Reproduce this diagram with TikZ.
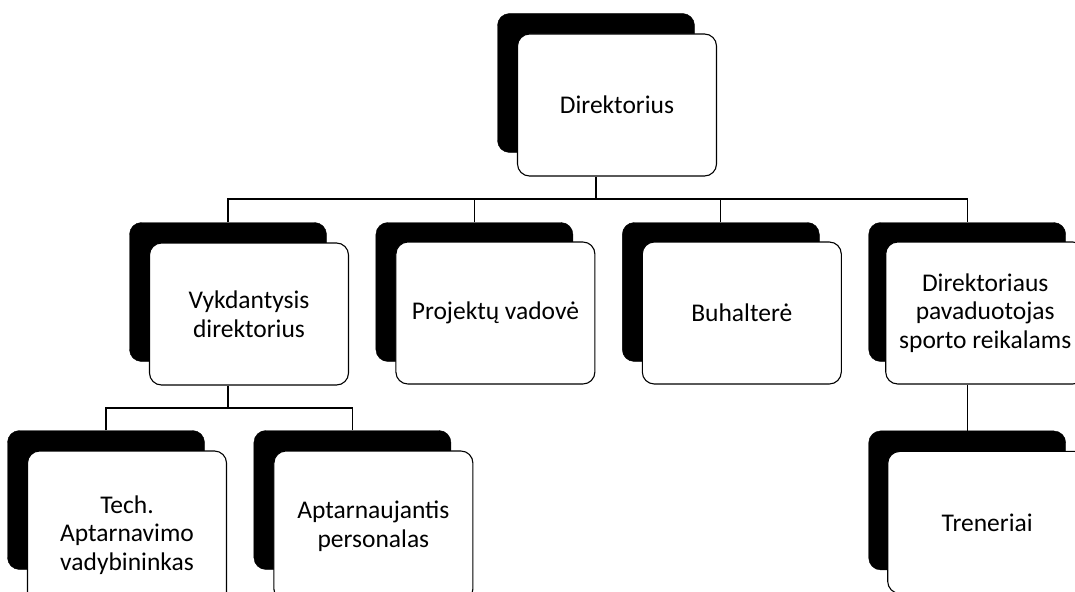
\documentclass[tikz,border=0pt]{standalone}
\usepackage{fontspec}
\setmainfont{Carlito}
\usetikzlibrary{positioning}

\begin{document}
\begin{tikzpicture}[x=1pt, y=-1pt, node distance=69pt and 49pt,
    back/.style={draw=black, fill=black, rounded corners=12pt, minimum width=197pt, minimum height=139pt, inner sep=0pt},
    card/.style={draw=black, line width=1.1pt, fill=white, rounded corners=12pt, minimum width=199pt, minimum height=142pt, inner sep=2pt, align=center, font=\fontsize{25.5}{28.5}\selectfont},
    link/.style={draw=black, line width=1.1pt}]
    \useasboundingbox (0,0) rectangle (1075,591);
    \clip (0,0) rectangle (1075,591);

    % Back plates
    \node[back] (dirS) at (596,83) {};
    \node[back] (vykS) at (228,292) {};
    \node[back, right=of vykS] (projS) {};
    \node[back, right=of projS] (buhS) {};
    \node[back, right=of buhS] (pavS) {};
    \node[back] (techS) at (106,500) {};
    \node[back, right=of techS] (aptS) {};
    \node[back, below=of pavS] (trenS) {};

    % Cards
    \node[card] (dir) at ([xshift=21pt, yshift=-22pt]dirS.center) {Direktorius};
    \node[card] (vyk) at ([xshift=21pt, yshift=-22pt]vykS.center) {Vykdantysis\\direktorius};
    \node[card] (proj) at ([xshift=21pt, yshift=-21pt]projS.center) {Projektų vadovė};
    \node[card] (buh) at ([xshift=21pt, yshift=-21pt]buhS.center) {Buhalterė};
    \node[card] (pav) at ([xshift=18pt, yshift=-21pt]pavS.center) {Direktoriaus\\pavaduotojas\\sporto reikalams};
    \node[card, minimum height=168pt] (tech) at ([xshift=21pt, yshift=-35pt]techS.center) {Tech.\\Aptarnavimo\\vadybininkas};
    \node[card, minimum height=150pt] (apt) at ([xshift=21pt, yshift=-26pt]aptS.center) {Aptarnaujantis\\personalas};
    \node[card] (tren) at ([xshift=20pt, yshift=-22pt]trenS.center) {Treneriai};

    % Connectors
    \coordinate (busA) at (596,199);
    \coordinate (busB) at (228,408);
    \path[link] (dirS |- dir.south) -- (busA);
    \path[link] (vykS.north) |- (busA) -| (pavS.north);
    \path[link] (projS.north) -- (projS.north |- busA);
    \path[link] (buhS.north) -- (buhS.north |- busA);
    \path[link] (vykS |- vyk.south) -- (busB);
    \path[link] (techS.north) |- (busB) -| (aptS.north);
    \path[link] (pavS |- pav.south) -- (trenS.north);
\end{tikzpicture}
\end{document}
